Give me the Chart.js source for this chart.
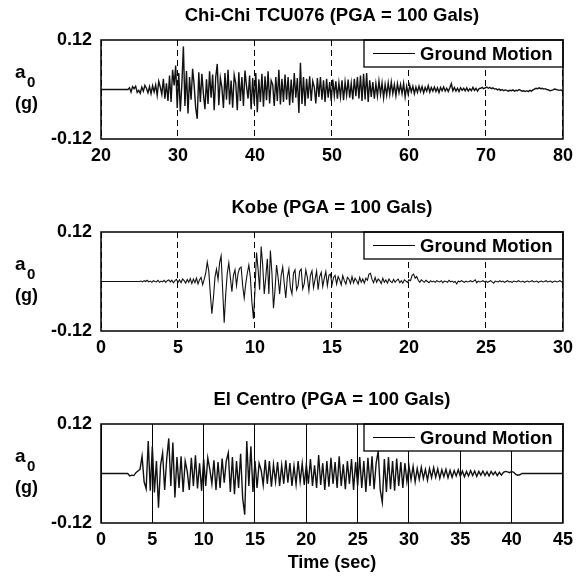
<!DOCTYPE html>
<html>
<head>
<meta charset="utf-8">
<script src="https://cdn.jsdelivr.net/npm/chart.js@4.4.0/dist/chart.umd.min.js"></script>
<style>
  body { margin: 0; background: #fff; }
  .panel { position: absolute; left: 0; width: 579px; height: 192px; }
</style>
</head>
<body>
<div class="panel" style="top:0px"><canvas id="chichi"></canvas></div>
<div class="panel" style="top:192px"><canvas id="kobe"></canvas></div>
<div class="panel" style="top:384px"><canvas id="elcentro"></canvas></div>
<script>
// ground acceleration, in thousandths of g
const chichiTitle = 'Chi-Chi TCU076 (PGA = 100 Gals)';
const chichiRecord = [20, 80];     // record window (sec), flat before start
const chichiStart = 23.5;
const chichiStep = 0.2;
const chichiMilliG = [
  0, 4, -6, 7, 2, 8, -7, -2, -9, 6, -4, 10, 3, -8, 7, -10, 9, -6,
  11, -14, 20, 6, -12, 26, -22, 15, -28, 34,
  -30, 48, 10, 58, -45, 40, -53, 12, 104, -40,
  45, -58, 30, -25, 50, 10, -45, -71, 42, -30,
  38, -10, -48, 25, -35, 44, -20, 36, -50, 30,
  62, -38, 28, 5, -45, 40, -25, 48, -36, 22,
  -44, 35, 15, -50, 42, -28, 30, -40, 46, 8,
  -22, 34, -48, 28, -35, 40, -55, 25, -30, 38,
  -42, 32, -26, 44, -34, 22, 12, -40, 30, -28,
  48, -36, 26, -30, 36, -25, 30, -38, 24, -32,
  40, -20, 28, -57, 65, -35, 30, -40, 26, -22,
  32, -28, 20, 6, -34, 28, -18, 30, -25, 22,
  -30, 26, -20, 18, -28, 24, -15, 20, -22, 16,
  -18, 22, -26, 18, -14, 24, -20, 15, -24, 26,
  -16, 30, -22, 34, -28, 38, -24, 40, -30, 22,
  -18, 18, -22, 14, -16, 20, -12, 16, -20, 12,
  -14, 16, -12, 18, -10, 12, -15, 14, -8, 12,
  -10, 15, -18, 8, -12, 10, -6, 8, -10, 6,
  -7, 8, -5, 7, -8, 5, -4, 9, -6, 5,
  -4, 6, -5, 4, -7, 5, -3, 6, -4, 3,
  -5, 4, 14, -3, 5, -4, 3, -5, 4, -2,
  3, -3, 4, -4, 2, -3, 5, -2, 3, -4,
  2, 3, 5, 2, 4, 6, 3, 5, 2, 4,
  1, 2, -1, 1, -2, 0, -3, -1, -2, -4,
  -2, -3, -1, -4, -2, -3, 0, -2, -4, -3,
  -5, -3, -5, -2, -4, -1, 1, 3, 2, 4,
  2, 3, 1, 2, 0, -1, -3, -2, -1, 1,
  0, -1, -2, -1, -3, -2
];
const chichiTicks = [20, 30, 40, 50, 60, 70, 80];

const kobeTitle = 'Kobe (PGA = 100 Gals)';
const kobeRecord = [0, 30];
const kobeStart = 2.5;
const kobeStep = 0.1;
const kobeMilliG = [
  0, 1, -1, 2, 0,
  3, -1, 1, -2, 2, 0, -1, 3, -2, 1,
  -1, 3, -2, 2, 4, -1, 3, -3, 2, 5,
  -2, 4, -3, 6, 2, -4, 5, -2, 7, -5,
  6, -3, 8, -6, 4, 10, -8, 5, 20, 47,
  25, -30, -78, -40, 10, 30, 5, 45, 62, -20,
  -100, -30, 20, 45, 10, -25, 15, 28, -10, 20,
  32, 35, -10, -40, -5, 20, 40, 10, -50, -90,
  -20, 70, 30, -20, 85, 40, -30, 10, 55, -30,
  75, 20, -65, -20, 40, 10, -30, 15, 35, -5,
  -40, 10, 30, -15, -30, 20, 28, -20, -10, 25,
  30, -18, -5, 28, 10, -22, 15, 26, -15, 5,
  25, -20, 12, 22, -12, 8, 24, -10, 15, 18,
  -8, 10, 15, -6, 12, 4, -8, 14, 2, -6,
  10, 6, -5, 12, -3, 8, 2, -6, 10, -2,
  6, -4, 8, 3, 18, 20, 5, -3, 10, -2,
  6, 2, -5, 8, -2, 4, -4, 6, 0, -3,
  5, -2, 3, 6, -3, 2, -4, 4, 1, -2,
  4, 2, 15, 18, 8, 12, 3, -2, 4, 1,
  -2, 3, 0, -3, 2, -1, 1, -2, 2, 0,
  -1, 2, -3, 1, 0, -2, 3, -1, 1, -2,
  0, -6, 1, -1, 2, 0, -2, 1, -1, 0,
  2, -1, 1, 4, -3, 1, -1, 0, 2, -1,
  1, -2, 0, 2, -1, -4, 1, 0, -1, 2,
  -1, 1, -2, 0, 2, -1, 0, -2, 1, 0,
  -1, 2, 0, -1, 1, -2, 0, 1, -1, 0,
  2, -1, 0, 1, -2, 0, 1, -1, 0, 2,
  -1, 0, 1, -2, 0, 1, -1, 0, 2, -1, 0
];
const kobeTicks = [0, 5, 10, 15, 20, 25, 30];

const elcentroTitle = 'El Centro (PGA = 100 Gals)';
const elcentroRecord = [0, 45];
const elcentroStart = 2.6;
const elcentroStep = 0.2;
const elcentroMilliG = [
  0, -6,
  -4, -5, 2, 6, 10,
  42, -20, -37, 79, -42,
  66, -46, 30, -83, 20,
  50, -40, 35, 85, -30,
  75, -58, 40, -35, 42,
  -45, 30, 5, -40, 38,
  -30, 44, -36, 25, -42,
  35, -30, 38, 10, -25,
  32, -40, 28, -35, 36,
  -22, 30, 50, -45, 40,
  -50, 30, -35, 48, -60,
  -100, 79, -30, 66, -45,
  30, -35, 25, 8, -28,
  33, -25, 30, -32, 22,
  -20, 28, -30, 20, -25,
  32, -22, 25, -30, 18,
  -26, 30, -20, 24, -28,
  22, -25, 35, -30, 20,
  -35, 45, -28, 25, -40,
  30, -32, 38, -25, 28,
  -35, 42, -30, 22, -38,
  30, -25, 35, -40, 28,
  -30, 40, -35, 30, -45,
  38, -30, 42, -38, 25,
  54, -40, -70, 35, -45,
  40, -38, 30, -42, 36,
  -30, 28, -35, 25, -20,
  18, -15, 17, -20, 12,
  -14, 15, -12, 10, -16,
  12, -10, 14, -9, 11,
  -12, 9, -8, 10, -10,
  8, -9, 7, -6, 9,
  -7, 6, -8, 5, -6,
  7, -5, 6, -7, 5,
  -4, 6, -5, 4, -6,
  5, -3, 4, -5, 3,
  -4, 3, 5, 4, 2,
  5, 3, -2, -4, -3,
  0
];
const elcentroTicks = [0, 5, 10, 15, 20, 25, 30, 35, 40, 45];

const yTicks = [-0.12, 0.12];
const seriesLabel = 'Ground Motion';

const FONT = '"Liberation Sans", Arial, Helvetica, sans-serif';
Chart.defaults.font.family = FONT;
Chart.defaults.color = '#000';

function toPoints(record, start, step, milliG) {
  const pts = [{ x: record[0], y: 0 }];
  milliG.forEach((v, i) => pts.push({ x: start + i * step, y: v / 1000 }));
  if (start + (milliG.length - 1) * step < record[1]) pts.push({ x: record[1], y: 0 });
  return pts;
}

// box, title, a0 (g) label and boxed legend
const decor = {
  id: 'decor',
  afterDatasetsDraw(chart, args, opts) {
    const { ctx, chartArea: a } = chart;
    ctx.save();
    ctx.fillStyle = '#000';
    ctx.strokeStyle = '#000';

    // legend
    const lx = 364, lb = a.top + 27;
    ctx.fillStyle = '#fff';
    ctx.fillRect(lx, a.top, a.right - lx, lb - a.top);
    ctx.lineWidth = 1.3;
    ctx.strokeRect(lx, a.top, a.right - lx, lb - a.top);
    const my = (a.top + lb) / 2;
    ctx.lineWidth = 1;
    ctx.beginPath();
    ctx.moveTo(373, my);
    ctx.lineTo(415, my);
    ctx.stroke();
    ctx.fillStyle = '#000';
    ctx.font = 'bold 18.5px ' + FONT;
    ctx.textAlign = 'left';
    ctx.textBaseline = 'middle';
    ctx.fillText(chart.data.datasets[0].label, 420, my + 1);

    // frame
    ctx.lineWidth = 1.5;
    ctx.strokeRect(a.left, a.top, a.right - a.left, a.bottom - a.top);

    // title
    ctx.font = 'bold 18.5px ' + FONT;
    ctx.textAlign = 'center';
    ctx.textBaseline = 'middle';
    ctx.fillText(opts.title, (a.left + a.right) / 2, 16);

    // y label a0 (g)
    ctx.textAlign = 'left';
    ctx.textBaseline = 'alphabetic';
    ctx.font = 'bold 19px ' + FONT;
    ctx.fillText('a', 15, 78);
    ctx.font = 'bold 15px ' + FONT;
    ctx.fillText('0', 27, 87);
    ctx.font = 'bold 18px ' + FONT;
    ctx.fillText('(g)', 15, 109);

    if (opts.xTitle) {
      ctx.textAlign = 'center';
      ctx.textBaseline = 'middle';
      ctx.fillText(opts.xTitle, (a.left + a.right) / 2, 179);
    }
    ctx.restore();
  }
};

function makeChart(id, title, points, ticks, dashed, width, xTitle) {
  const ctx = document.getElementById(id).getContext('2d');
  return new Chart(ctx, {
    type: 'line',
    data: {
      datasets: [{
        label: seriesLabel,
        data: points,
        borderColor: '#111',
        borderWidth: width,
        pointRadius: 0,
        tension: 0,
        fill: false
      }]
    },
    options: {
      responsive: true,
      maintainAspectRatio: false,
      animation: false,
      layout: { padding: { top: 40, right: 14, left: 0, bottom: 0 } },
      plugins: {
        legend: { display: false },
        tooltip: { enabled: false },
        decor: { title: title, xTitle: xTitle }
      },
      scales: {
        x: {
          type: 'linear',
          min: ticks[0],
          max: ticks[ticks.length - 1],
          afterBuildTicks: s => { s.ticks = ticks.map(v => ({ value: v })); },
          afterFit: s => { s.height = 53; },
          ticks: { font: { size: 18, weight: 'bold' }, padding: 6, maxRotation: 0 },
          grid: { color: '#000', lineWidth: 1, drawTicks: false },
          border: { display: false, dash: dashed ? [6, 4] : [] }
        },
        y: {
          min: yTicks[0],
          max: yTicks[1],
          afterBuildTicks: s => { s.ticks = yTicks.map(v => ({ value: v })); },
          afterFit: s => { s.width = 101; },
          ticks: {
            font: { size: 18, weight: 'bold' },
            padding: 9,
            callback: v => v.toFixed(2)
          },
          grid: { display: false, drawTicks: false },
          border: { display: false }
        }
      }
    },
    plugins: [decor]
  });
}

makeChart('chichi', chichiTitle, toPoints(chichiRecord, chichiStart, chichiStep, chichiMilliG), chichiTicks, true, 1.4);
makeChart('kobe', kobeTitle, toPoints(kobeRecord, kobeStart, kobeStep, kobeMilliG), kobeTicks, true, 1.1);
makeChart('elcentro', elcentroTitle, toPoints(elcentroRecord, elcentroStart, elcentroStep, elcentroMilliG), elcentroTicks, false, 1.4, 'Time (sec)');
</script>
</body>
</html>
